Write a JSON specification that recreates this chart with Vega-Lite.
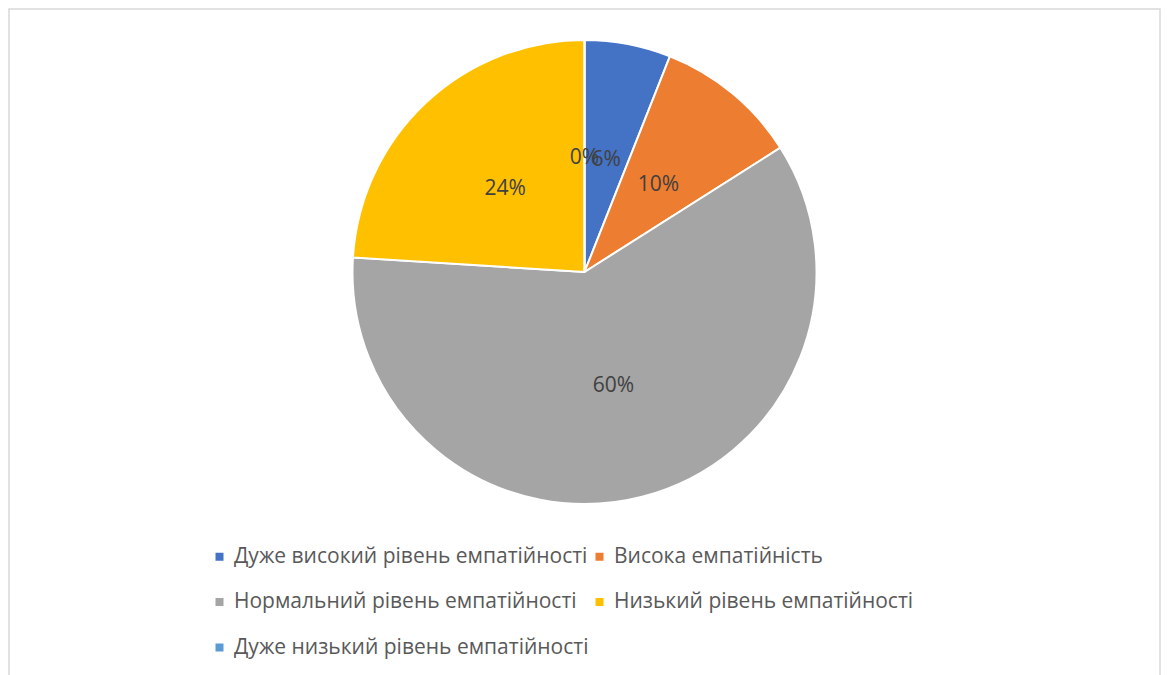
{
  "$schema": "https://vega.github.io/schema/vega-lite/v6.json",
  "width": 1151,
  "height": 680,
  "autosize": "none",
  "padding": {"left": 9, "top": 9, "right": 7, "bottom": 0},
  "background": "white",
  "view": {"stroke": "#d9d9d9", "strokeWidth": 1.5, "fill": "white"},
  "data": {
    "values": [
      {"category": "Дуже високий рівень емпатійності", "value": 0.06, "order": 1},
      {"category": "Висока емпатійність", "value": 0.10, "order": 2},
      {"category": "Нормальний рівень емпатійності", "value": 0.60, "order": 3},
      {"category": "Низький рівень емпатійності", "value": 0.24, "order": 4},
      {"category": "Дуже низький рівень емпатійності", "value": 0.0, "order": 5}
    ]
  },
  "encoding": {
    "theta": {"field": "value", "type": "quantitative", "stack": true},
    "order": {"field": "order", "type": "quantitative"}
  },
  "layer": [
    {
      "mark": {"type": "arc", "outerRadius": 232, "stroke": "white", "strokeWidth": 2, "yOffset": -77},
      "encoding": {
        "color": {
          "field": "category",
          "type": "nominal",
          "scale": {
            "domain": ["Дуже високий рівень емпатійності", "Нормальний рівень емпатійності", "Дуже низький рівень емпатійності", "Висока емпатійність", "Низький рівень емпатійності"],
            "range": ["#4472C4", "#A5A5A5", "#5B9BD5", "#ED7D31", "#FFC000"]
          },
          "legend": {
            "orient": "none",
            "legendX": 200,
            "legendY": 537,
            "columns": 2,
            "title": null,
            "symbolType": "square",
            "symbolSize": 64,
            "symbolStrokeWidth": 0,
            "labelFont": "Open Sans",
            "labelFontSize": 21,
            "labelColor": "#595959",
            "labelLimit": 600,
            "rowPadding": 23.5,
            "columnPadding": 0,
            "symbolOffset": 0
          }
        }
      }
    },
    {
      "mark": {"type": "text", "radius": 116, "yOffset": -77, "dy": 2, "font": "Open Sans", "fontSize": 21, "fill": "#404040"},
      "encoding": {
        "text": {"field": "value", "type": "quantitative", "format": ".0%"}
      }
    }
  ]
}
